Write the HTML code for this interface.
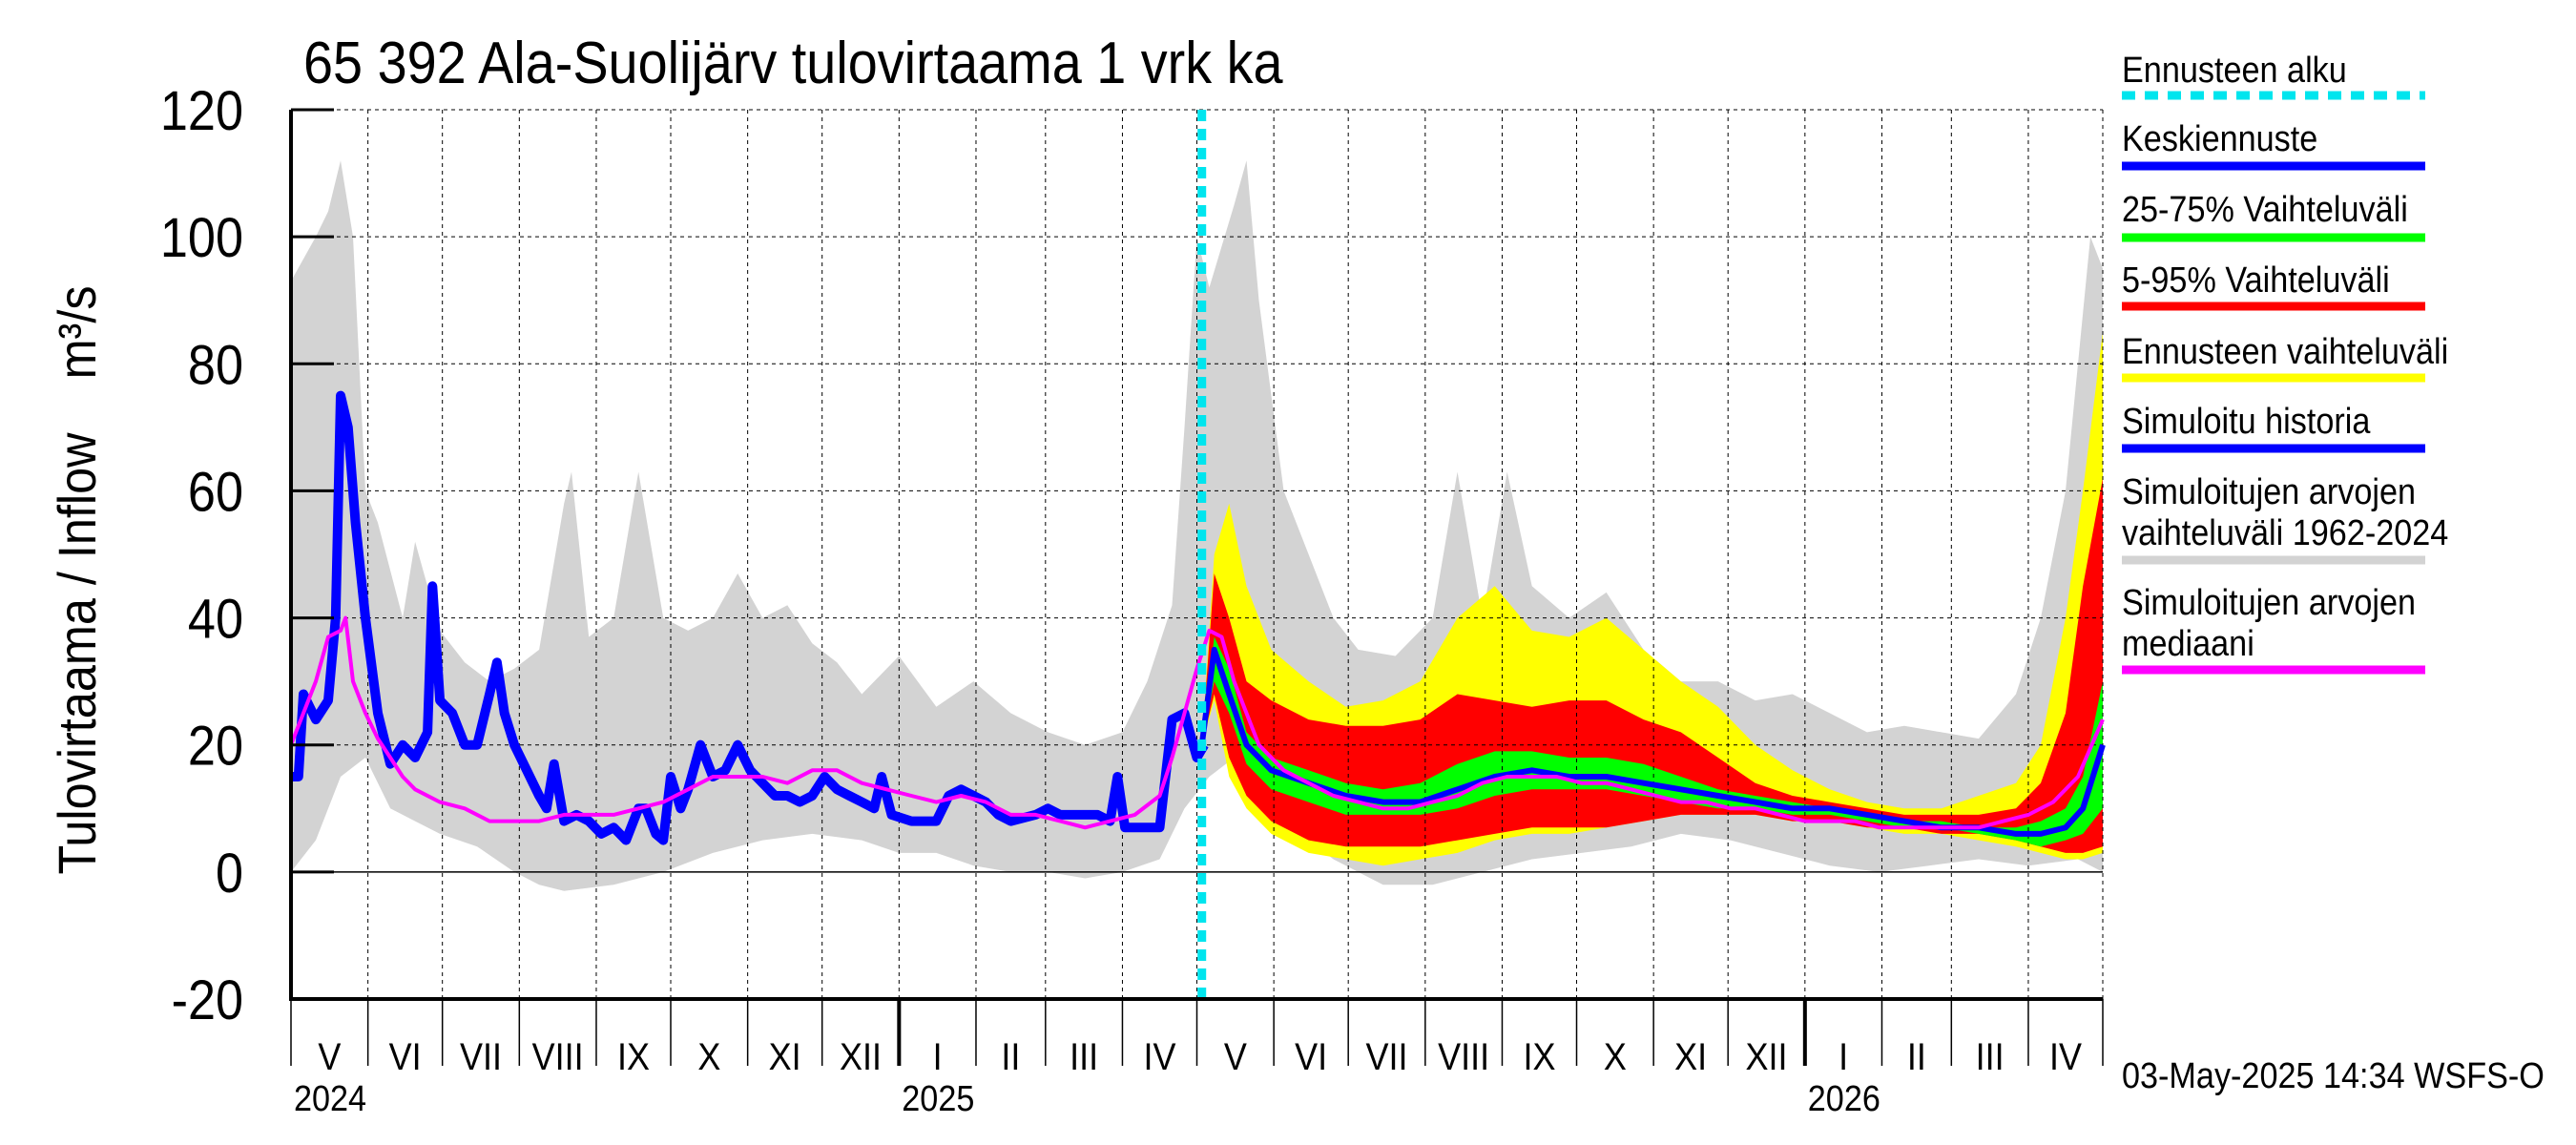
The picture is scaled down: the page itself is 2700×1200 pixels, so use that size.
<!DOCTYPE html>
<html><head><meta charset="utf-8"><style>
body{margin:0;background:#fff;}
svg{display:block;font-family:"Liberation Sans",sans-serif;}
</style></head><body>
<svg id="chart" width="2700" height="1200" viewBox="0 0 2700 1200" xmlns="http://www.w3.org/2000/svg">
<rect width="2700" height="1200" fill="#fff"/>
<g id="bands"></g><g id="grid"></g><g id="lines"></g><g id="axes"></g>
<text class="cond" x="318" y="87" font-size="62">65 392 Ala-Suolijärv tulovirtaama 1 vrk ka</text>
<text class="cond" transform="translate(100,608) rotate(-90)" text-anchor="middle" font-size="56">Tulovirtaama / Inflow&#160;&#160;&#160;&#160;m³/s</text>
<text class="cond" x="2224" y="1140" font-size="38">03-May-2025 14:34 WSFS-O</text>
<g id="legend"></g>
</svg>
<script>
// ---- data (x = day index from 2024-05-01) ----
const grayDays=[0,10,15,20,25,30,35,45,50,60,70,80,90,100,110,113,120,130,140,150,160,170,180,190,200,210,220,230,245,260,275,290,305,320,335,345,355,360,365,370,380,385,390,400,410,420,430,445,460,470,480,490,500,515,530,545,560,575,590,605,620,635,650,665,680,695,705,715,725,730];
const grayMax=[93,100,104,112,100,60,55,40,52,38,33,30,32,35,58,63,37,40,63,40,38,40,47,40,42,36,33,28,34,26,30,25,22,20,22,30,42,70,100,92,105,112,90,60,50,40,35,34,40,63,40,63,45,40,44,35,30,30,27,28,25,22,23,22,21,28,40,60,100,95];
const grayMinDays=[0,10,20,30,40,50,60,75,90,100,110,130,150,170,190,210,230,245,260,275,290,305,320,335,350,360,370,380,390,400,420,440,460,480,500,520,540,560,580,600,620,640,660,680,700,720,730];
const grayMin=[0,5,15,18,10,8,6,4,0,-2,-3,-2,0,3,5,6,5,3,3,1,0,0,-1,0,2,10,15,18,15,8,2,-2,-2,0,2,3,4,6,5,3,1,0,1,2,1,2,0];
const histDays=[0,3,5,10,15,18,20,23,26,30,35,40,45,50,55,57,60,65,70,75,80,83,86,90,95,100,103,106,110,115,120,125,130,135,140,143,147,150,153,157,160,165,170,175,180,185,190,195,200,205,210,215,220,225,230,235,238,242,250,260,265,270,275,280,285,290,300,305,310,320,325,330,333,336,345,350,355,360,365,368];
const histVals=[15,15,28,24,27,40,75,70,55,40,25,17,20,18,22,45,27,25,20,20,28,33,25,20,16,12,10,17,8,9,8,6,7,5,10,10,6,5,15,10,13,20,15,16,20,16,14,12,12,11,12,15,13,12,11,10,15,9,8,8,12,13,12,11,9,8,9,10,9,9,9,8,15,7,7,7,24,25,18,20];
const medDays=[0,10,15,20,22,25,30,35,40,45,50,60,70,80,90,100,110,120,130,140,150,160,170,180,190,200,210,220,230,240,250,260,270,280,290,300,310,320,330,340,350,355,360,365,370,375,380,390,400,410,420,430,440,450,460,470,480,490,500,510,520,530,540,550,560,570,580,590,600,610,620,630,640,650,660,670,680,690,700,710,720,730];
const medVals=[20,30,37,38,40,30,25,21,18,15,13,11,10,8,8,8,9,9,9,10,11,13,15,15,15,14,16,16,14,13,12,11,12,11,9,9,8,7,8,9,12,18,25,32,38,37,30,20,16,14,12,11,10,10,11,12,14,15,15,15,14,14,13,12,11,11,10,10,9,8,8,8,7,7,7,7,7,8,9,11,15,24];
const fcDays=[367,372,378,385,395,410,425,440,455,470,485,500,515,530,545,560,575,590,605,620,635,650,665,680,695,705,715,722,730];
const yelMax=[20,50,58,45,35,30,26,27,30,40,45,38,37,40,35,30,26,20,16,13,11,10,10,12,14,20,40,60,85];
const redMax=[20,47,40,30,27,24,23,23,24,28,27,26,27,27,24,22,18,14,12,11,10,9,9,9,10,14,25,45,62];
const grnMax=[20,37,32,22,18,16,14,13,14,17,19,19,18,18,17,15,13,12,11,10,9,8,8,7,7,8,10,15,30];
const fcMean=[20,35,28,20,16,14,12,11,11,13,15,16,15,15,14,13,12,11,10,10,9,8,7,7,6,6,7,10,20];
const grnMin=[20,30,25,17,13,11,9,9,9,10,12,13,13,13,12,11,10,10,9,9,8,7,7,6,5,4,5,6,10];
const redMin=[20,28,18,12,8,5,4,4,4,5,6,7,7,7,8,9,9,9,8,8,7,7,6,6,5,4,3,3,4];
const yelMin=[20,27,15,10,6,3,2,1,2,3,5,6,6,7,8,9,9,9,8,8,7,6,6,5,4,3,2,2,3];
const yTicks=[-20,0,20,40,60,80,100,120];
const monthLabels=["V","VI","VII","VIII","IX","X","XI","XII","I","II","III","IV","V","VI","VII","VIII","IX","X","XI","XII","I","II","III","IV"];
const forecastDay=367;

const L=305,R=2204,T=115,B=1047,NS="http://www.w3.org/2000/svg";
const xs=d=>L+d*(R-L)/730;
const ys=v=>T+(120-v)*(B-T)/140;
function mk(tag,attrs,parent){const e=document.createElementNS(NS,tag);for(const k in attrs)e.setAttribute(k,attrs[k]);document.getElementById(parent).appendChild(e);return e;}
function line(days,vals){return days.map((d,i)=>(i?"L":"M")+xs(d).toFixed(1)+","+ys(vals[i]).toFixed(1)).join("");}
function band(dU,up,dL,lo){return line(dU,up)+dL.slice().reverse().map((d,i)=>"L"+xs(d).toFixed(1)+","+ys(lo[lo.length-1-i]).toFixed(1)).join("")+"Z";}

let e;
e=mk("path",{d:band(grayDays,grayMax,grayMinDays,grayMin),fill:"#d3d3d3"},"bands");


e=mk("path",{d:band(fcDays,yelMax,fcDays,yelMin),fill:"#ffff00"},"bands");


e=mk("path",{d:band(fcDays,redMax,fcDays,redMin),fill:"#ff0000"},"bands");


e=mk("path",{d:band(fcDays,grnMax,fcDays,grnMin),fill:"#00ff00"},"bands");



// grid
const start=Date.UTC(2024,4,1);
const monthStarts=[];
for(let i=0;i<=24;i++){monthStarts.push((Date.UTC(2024,4+i,1)-start)/864e5);}
monthStarts.forEach((d,i)=>{
  if(i>0&&i<24){e=mk("line",{x1:xs(d),x2:xs(d),y1:T,y2:B,stroke:"#000","stroke-width":1,"stroke-dasharray":"4,4"},"grid");
  
  }
  const isJan=(i%12)==8;
  e=mk("line",{x1:xs(d),x2:xs(d),y1:B,y2:1117,stroke:"#000","stroke-width":isJan?4:1.5},"axes");
  
  
  if(i<24){e=mk("text",{x:(xs(d)+xs(monthStarts[i+1]))/2,y:1121,"text-anchor":"middle","font-size":40,class:"cond"},"axes");
  e.textContent=monthLabels[i];
  
  }
});
[[0,"2024"],[245,"2025"],[610,"2026"]].forEach(([d,t])=>{
  e=mk("text",{x:xs(d)+41,y:1164,"text-anchor":"middle","font-size":38,class:"cond"},"axes");e.textContent=t;
  
  
});
e=mk("line",{x1:R,x2:R,y1:T,y2:B,stroke:"#000","stroke-width":1,"stroke-dasharray":"4,4"},"grid");


yTicks.forEach(v=>{
  if(v>-20&&v!==0){e=mk("line",{x1:L,x2:R,y1:ys(v),y2:ys(v),stroke:"#000","stroke-width":1,"stroke-dasharray":"4,4"},"grid");
  
  }
  e=mk("line",{x1:L,x2:L+45,y1:ys(v),y2:ys(v),stroke:"#000","stroke-width":3},"axes");
  
  
  e=mk("text",{x:255,y:ys(v)+21,"text-anchor":"end","font-size":58,class:"cond"},"axes");e.textContent=v;
  
  
});
e=mk("line",{x1:L,x2:R,y1:ys(0),y2:ys(0),stroke:"#000","stroke-width":1.5},"grid");



// lines
e=mk("path",{d:line(histDays,histVals),fill:"none",stroke:"#0000ff","stroke-width":10,"stroke-linejoin":"round"},"lines");


e=mk("path",{d:line(fcDays,fcMean),fill:"none",stroke:"#0000ff","stroke-width":6,"stroke-linejoin":"round"},"lines");


e=mk("path",{d:line(medDays,medVals),fill:"none",stroke:"#ff00ff","stroke-width":4,"stroke-linejoin":"round"},"lines");


e=mk("line",{x1:xs(forecastDay),x2:xs(forecastDay),y1:T,y2:B,stroke:"#00e5ee","stroke-width":9,"stroke-dasharray":"12,8"},"lines");



// axes
e=mk("line",{x1:L,x2:L,y1:T,y2:B+2,stroke:"#000","stroke-width":4},"axes");


e=mk("line",{x1:L,x2:R,y1:B,y2:B,stroke:"#000","stroke-width":4},"axes");



// legend
const legend=[
 {t:["Ennusteen alku"],ty:[86],ly:100,c:"#00e5ee",dash:"14,10",n:"legend-forecast-start"},
 {t:["Keskiennuste"],ty:[158],ly:174,c:"#0000ff",n:"legend-mean-forecast"},
 {t:["25-75% Vaihteluväli"],ty:[232],ly:249,c:"#00ff00",n:"legend-band-25-75"},
 {t:["5-95% Vaihteluväli"],ty:[306],ly:321,c:"#ff0000",n:"legend-band-5-95"},
 {t:["Ennusteen vaihteluväli"],ty:[381],ly:396,c:"#ffff00",n:"legend-forecast-range"},
 {t:["Simuloitu historia"],ty:[454],ly:470,c:"#0000ff",n:"legend-simulated-history"},
 {t:["Simuloitujen arvojen","vaihteluväli 1962-2024"],ty:[528,571],ly:587,c:"#d3d3d3",n:"legend-simulated-range"},
 {t:["Simuloitujen arvojen","mediaani"],ty:[644,687],ly:702,c:"#ff00ff",n:"legend-median"}];
legend.forEach(it=>{
  it.t.forEach((s,j)=>{e=mk("text",{x:2224,y:it.ty[j],"font-size":38,class:"cond"},"legend");e.textContent=s;
  
  });
  const a={x1:2224,x2:2542,y1:it.ly,y2:it.ly,stroke:it.c,"stroke-width":9};
  if(it.dash)a["stroke-dasharray"]=it.dash;
  e=mk("line",a,"legend");
  
  
});
// condense text horizontally like the reference font
document.querySelectorAll("text.cond").forEach(t=>{
  const len=t.getComputedTextLength();
  t.setAttribute("textLength",(len*0.9).toFixed(1));
  t.setAttribute("lengthAdjust","spacingAndGlyphs");
});
</script>
</body></html>
